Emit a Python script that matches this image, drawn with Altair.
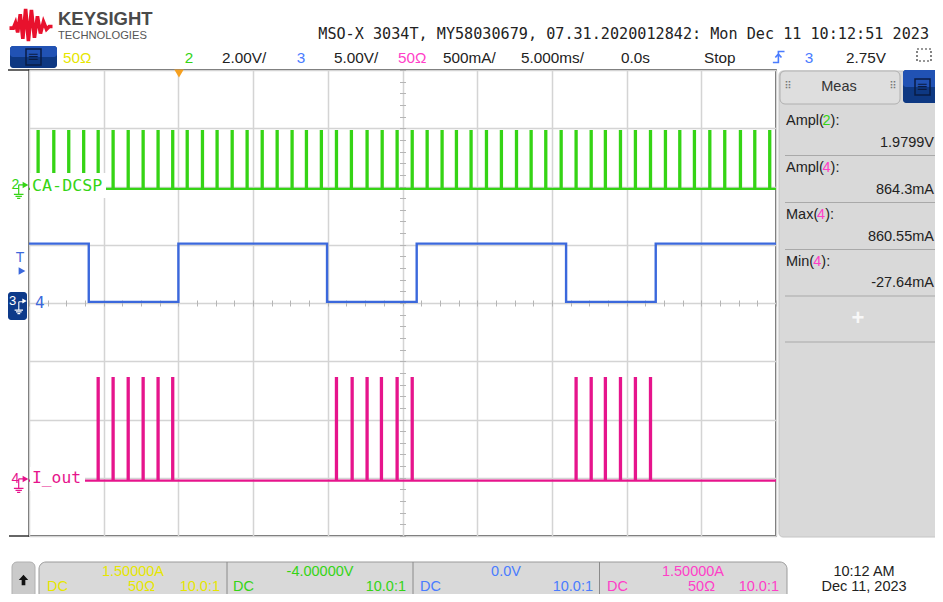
import altair as alt
import pandas as pd
import numpy as np

# ---------------- values read from the screen ----------------
# time base: 5 ms/div, 10 divisions, trigger at 2 div from left
x_domain_ms = [-10.0, 40.0]
x_grid_ms = [-10, -5, 0, 5, 10, 15, 20, 25, 30, 35, 40]
y_grid_div = [0, 1, 2, 3, 4, 5, 6, 7, 8]

# channel 2 (CA-DCSP), 2.00 V/div
green_pulses_ms = [-9.42, -8.37, -7.37, -6.37, -5.40, -4.40, -3.39, -2.39, -1.39, -0.41,
                   0.56, 1.58, 2.56, 3.57, 4.57, 5.58, 6.58, 7.58, 8.54, 9.54,
                   10.55, 11.55, 12.60, 13.61, 14.61, 15.62, 16.62, 17.62, 18.58, 19.56,
                   20.59, 21.59, 22.60, 23.58, 24.56, 25.59, 26.59, 27.60, 28.55, 29.56,
                   30.56, 31.57, 32.57, 33.53, 34.51, 35.54, 36.54, 37.59, 38.55, 39.55]
green_levels_v = [0.0, 1.98]
green_vdiv = 2.0
green_gnd_div = 5.96

# channel 3, 5.00 V/div
blue_edges_ms = [-6.0, 0.0, 9.95, 15.95, 25.95, 31.95]
blue_levels_v = [5.0, 0.0, 5.0, 0.0, 5.0, 0.0, 5.0]
blue_vdiv = 5.0
blue_gnd_div = 4.02

# channel 4 (I_out), 500 mA/div
mag_pulses_ms = [-5.40, -4.40, -3.39, -2.39, -1.39, -0.41,
                 10.55, 11.60, 12.60, 13.56, 14.61, 15.62,
                 26.59, 27.60, 28.55, 29.56, 30.56, 31.57]
mag_levels_a = [0.0, 0.88]
mag_adiv = 0.5
mag_gnd_div = 0.95

pulse_w_ms = 0.06

meas_names = ["Ampl(", "Ampl(", "Max(", "Min("]
meas_ch = ["2", "4", "4", "4"]
meas_vals = ["1.9799V", "864.3mA", "860.55mA", "-27.64mA"]

# ---------------- build trace tables ----------------
def pulse_wave(times, lo, hi):
    t, v = [x_domain_ms[0]], [lo]
    for p in times:
        t += [p, p, p + pulse_w_ms, p + pulse_w_ms]
        v += [lo, hi, hi, lo]
    t.append(x_domain_ms[1]); v.append(lo)
    return t, v

gt, gv = pulse_wave(green_pulses_ms, *green_levels_v)
green_df = pd.DataFrame({"t": gt, "d": np.array(gv) / green_vdiv + green_gnd_div})
green_df["i"] = range(len(green_df))

bt, bv = [x_domain_ms[0]], [blue_levels_v[0]]
for e, a, b in zip(blue_edges_ms, blue_levels_v[:-1], blue_levels_v[1:]):
    bt += [e, e]; bv += [a, b]
bt.append(x_domain_ms[1]); bv.append(blue_levels_v[-1])
blue_df = pd.DataFrame({"t": bt, "d": np.array(bv) / blue_vdiv + blue_gnd_div})
blue_df["i"] = range(len(blue_df))

mt, mv = pulse_wave(mag_pulses_ms, *mag_levels_a)
mag_df = pd.DataFrame({"t": mt, "d": np.array(mv) / mag_adiv + mag_gnd_div})
mag_df["i"] = range(len(mag_df))

# ---------------- layout helpers ----------------
W, H = 747, 466
OX, OY = 29, 70
one = pd.DataFrame({"k": [0]})
UI = "Liberation Sans"
MONO = "DejaVu Sans Mono"
GREEN = "#35d415"
BLUE = "#3b68dc"
MAG = "#e6148c"
HBLUE = "#4a7cff"
HMAG = "#ff3ec8"
YEL = "#e6e600"
TXT = "#222222"


def T(s, x, y, color=TXT, size=14.5, align="left", font=UI, weight="normal"):
    return alt.Chart(one).mark_text(text=s, align=align, baseline="middle", font=font,
                                    fontSize=size, fontWeight=weight, color=color).encode(
        x=alt.value(x - OX), y=alt.value(y - OY))


def R(x1, y1, x2, y2, fill="transparent", stroke="transparent", sw=1.0, radius=0, dash=None):
    kw = dict(fill=fill, stroke=stroke, strokeWidth=sw, cornerRadius=radius)
    if dash:
        kw["strokeDash"] = dash
    return alt.Chart(one).mark_rect(**kw).encode(
        x=alt.value(x1 - OX), x2=alt.value(x2 - OX), y=alt.value(y1 - OY), y2=alt.value(y2 - OY))


def L(x1, y1, x2, y2, color, sw=1.0):
    return alt.Chart(one).mark_rule(color=color, strokeWidth=sw).encode(
        x=alt.value(x1 - OX), x2=alt.value(x2 - OX), y=alt.value(y1 - OY), y2=alt.value(y2 - OY))


def P(shape, x, y, size, fill="transparent", stroke="transparent", sw=1.0):
    return alt.Chart(one).mark_point(shape=shape, size=size, fill=fill, stroke=stroke,
                                     strokeWidth=sw, filled=(fill != "transparent"),
                                     opacity=1, fillOpacity=1).encode(
        x=alt.value(x - OX), y=alt.value(y - OY))


xs = alt.Scale(domain=x_domain_ms, nice=False, zero=False)
ys = alt.Scale(domain=[0, 8], nice=False, zero=False)

grid_x = alt.Axis(orient="bottom", values=x_grid_ms, grid=True, gridColor="#d4d4d4", gridWidth=1.5,
                  labels=False, ticks=False, domain=False, title="")
grid_y = alt.Axis(orient="left", values=y_grid_div, grid=True, gridColor="#d4d4d4", gridWidth=1.5,
                  labels=False, ticks=False, domain=False, title="")
minor_x = alt.Axis(orient="bottom", offset=-(H / 2 + 3), values=list(np.arange(-10, 40.01, 1.25)),
                   ticks=True, tickSize=6, tickColor="#b5b5b5", tickWidth=1, labels=False,
                   domain=False, grid=False, title="")
minor_y = alt.Axis(orient="left", offset=-(W / 2 + 3), values=list(np.round(np.arange(0, 8.01, 0.2), 2)),
                   ticks=True, tickSize=6, tickColor="#b5b5b5", tickWidth=1, labels=False,
                   domain=False, grid=False, title="")

green_line = alt.Chart(green_df).mark_line(color=GREEN, strokeWidth=2.4, clip=True).encode(
    x=alt.X("t:Q", scale=xs, axis=grid_x), y=alt.Y("d:Q", scale=ys, axis=grid_y), order="i:Q")
blue_line = alt.Chart(blue_df).mark_line(color=BLUE, strokeWidth=2.4, clip=True).encode(
    x=alt.X("t:Q", scale=xs, axis=minor_x), y=alt.Y("d:Q", scale=ys, axis=None), order="i:Q")
mag_line = alt.Chart(mag_df).mark_line(color=MAG, strokeWidth=2.4, clip=True).encode(
    x=alt.X("t:Q", scale=xs, axis=None), y=alt.Y("d:Q", scale=ys, axis=minor_y), order="i:Q")

GROUND = "M-0.1,-0.9 L0.6,-0.9 M-0.1,-0.9 L-0.1,0.3 M-0.7,0.3 L0.5,0.3 M-0.5,0.55 L0.3,0.55 M-0.3,0.8 L0.1,0.8"
LOGO = ("M-1,0.1 L-0.82,0.1 L-0.72,-0.15 L-0.62,0.3 L-0.5,-0.55 L-0.38,0.6 L-0.25,-0.8 L-0.12,0.7 "
        "L0.02,-0.75 L0.16,0.55 L0.3,-0.45 L0.44,0.35 L0.58,-0.2 L0.72,0.15 L0.85,0.02 L1,0.02")
EDGE = "M-1,0.9 L-0.1,0.9 L-0.1,-0.9 L0.9,-0.9 M-0.6,0.1 L-0.1,-0.5 L0.4,0.1"
ARROW = "M0,-1 L0.9,0 L0.35,0 L0.35,1 L-0.35,1 L-0.35,0 L-0.9,0 Z"

layers = []

# right measurement panel
layers += [
    R(779, 71, 945, 537, fill="#d9d9d9", stroke="#c4c4c4", radius=4),
    R(780, 71, 900, 104, fill="#dedede", stroke="#b0b0b0", radius=5),
    T("Meas", 839, 87, color="#333333", size=14.5, align="center"),
    T("⠿", 788, 86, color="#777777", size=10, align="center", font="DejaVu Sans"),
    T("⠿", 893, 86, color="#777777", size=10, align="center", font="DejaVu Sans"),
    R(903, 70, 941, 103, fill="#0e3882", radius=3),
    R(903, 70, 941, 87, fill="#2152b4", radius=3),
    R(915, 79, 930, 95, stroke="#0a1c45", sw=1.5),
    T("≡", 922.5, 87, color="#0a1c45", size=14, align="center", font="DejaVu Sans"),
]
name_w = {"Ampl(": 36.5, "Max(": 31.1, "Min(": 27.2}
row_y = [121, 168, 215, 261.5]
for nm, ch, val, yy in zip(meas_names, meas_ch, meas_vals, row_y):
    col = GREEN if ch == "2" else HMAG
    xw = 786 + name_w[nm]
    layers += [
        T(nm, 786, yy, size=14.5),
        T(ch, xw, yy, color=col, size=14.5),
        T("):", xw + 8.1, yy, size=14.5),
        T(val, 934, yy + 21.5, size=14.5, align="right"),
        L(785, yy + 34.5, 935, yy + 34.5, "#a9a9a9", 1),
    ]
layers += [
    T("+", 858, 318, color="#f7f7f7", size=22, align="center", weight="bold"),
    L(785, 342, 935, 342, "#a9a9a9", 1),
]

# footer
R1, R2 = 571.5, 586.5
layers += [
    R(12, 562, 35, 606, fill="#cacaca", stroke="#b0b0b0", radius=5),
    P(ARROW, 23.5, 580, 110, fill="#111111"),
    R(39, 562, 787, 610, fill="#d9d9d9", stroke="#9a9a9a", radius=7),
    L(227, 562, 227, 600, "#8a8a8a", 1),
    L(413, 562, 413, 600, "#8a8a8a", 1),
    L(599.5, 562, 599.5, 600, "#8a8a8a", 1),
    T("1.50000A", 133, R1, color=YEL, align="center"),
    T("DC", 47, R2, color=YEL),
    T("50Ω", 128, R2, color=YEL),
    T("10.0:1", 220, R2, color=YEL, align="right"),
    T("-4.00000V", 320, R1, color=GREEN, align="center"),
    T("DC", 233, R2, color=GREEN),
    T("10.0:1", 406, R2, color=GREEN, align="right"),
    T("0.0V", 506, R1, color=HBLUE, align="center"),
    T("DC", 420, R2, color=HBLUE),
    T("10.0:1", 593, R2, color=HBLUE, align="right"),
    T("1.50000A", 693, R1, color=HMAG, align="center"),
    T("DC", 607, R2, color=HMAG),
    T("50Ω", 688, R2, color=HMAG),
    T("10.0:1", 779, R2, color=HMAG, align="right"),
    T("10:12 AM", 864, R1, align="center"),
    T("Dec 11, 2023", 864, R2, align="center"),
]

# traces
layers += [green_line, blue_line, mag_line]

# trigger position marker and border stubs
layers += [
    P("triangle-down", 179, 73.5, 90, fill="#f5a020"),
    L(8, 70, 29, 70, "#333333", 1.5),
    L(9, 536, 29, 536, "#333333", 1.5),
]

# channel labels / markers
layers += [
    R(30, 173, 106, 198, fill="white"),
    T("CA-DCSP", 32, 185.5, color=GREEN, size=16.7, font=MONO),
    T("2", 11.5, 185, color=GREEN, size=14),
    P(GROUND, 19.5, 192, 256, stroke=GREEN, sw=1.2),
    P("triangle-right", 25.5, 185, 45, fill=GREEN),
    T("T", 20, 258, color=BLUE, size=14, align="center"),
    P("triangle-right", 22, 271, 60, fill=BLUE),
    R(8, 292, 27, 320, fill="#0d3a8a", radius=3),
    T("3", 12.5, 301, color="white", size=13, align="center"),
    P(GROUND, 19.5, 308, 196, stroke="white", sw=1.1),
    P("triangle-right", 24.5, 301, 25, fill="white"),
    T("4", 35, 302.5, color=BLUE, size=16, font=MONO),
    R(30, 467, 85, 491, fill="white"),
    T("I_out", 32, 478, color=MAG, size=16.3, font=MONO),
    T("4", 11.5, 479, color=MAG, size=14),
    P(GROUND, 19.5, 486, 256, stroke=MAG, sw=1.2),
    P("triangle-right", 25.5, 479, 45, fill=MAG),
]

# header
layers += [
    P(LOGO, 31, 26, 1850, stroke="#e8112d", sw=3.6),
    T("KEYSIGHT", 58, 18.5, color="#4a4a4a", size=18.5, weight="bold"),
    T("TECHNOLOGIES", 58, 35.5, color="#555555", size=11.2),
    T("MSO-X 3034T, MY58030679, 07.31.2020012842: Mon Dec 11 10:12:51 2023", 929, 33.5,
      size=15.15, font=MONO, align="right"),
    R(10, 46, 57, 68, fill="#0e3882", radius=3),
    R(10, 46, 57, 57, fill="#2152b4", radius=3),
    R(26, 49, 41, 65, stroke="#0a1c45", sw=1.5),
    T("≡", 33.5, 57, color="#0a1c45", size=14, align="center", font="DejaVu Sans"),
    T("50Ω", 63, 58, color=YEL, size=15.3),
    T("2", 189, 58, color=GREEN, size=15.3, align="center"),
    T("2.00V/", 222, 58, size=15.3),
    T("3", 301, 58, color=HBLUE, size=15.3, align="center"),
    T("5.00V/", 334, 58, size=15.3),
    T("50Ω", 398, 58, color=HMAG, size=15.3),
    T("500mA/", 443, 58, size=15.3),
    T("5.000ms/", 521, 58, size=15.3),
    T("0.0s", 621, 58, size=15.3),
    T("Stop", 704, 58, size=15.3),
    P(EDGE, 779, 57, 150, stroke=HBLUE, sw=1.6),
    T("3", 809, 58, color=HBLUE, size=15.3, align="center"),
    T("2.75V", 846, 58, size=15.3),
    R(917, 49, 931, 61, stroke="#333333", sw=1.2, dash=[2, 2]),
]

chart = alt.layer(*layers).resolve_axis(x="independent", y="independent").properties(
    width=W, height=H,
    padding={"left": 21, "top": 62, "right": 159, "bottom": 58},
    autosize=alt.AutoSizeParams(type="none"),
    background="white",
).configure_view(stroke="#333333", strokeWidth=1.5)

chart.save("out.html", embed_options={"renderer": "svg", "actions": False})
